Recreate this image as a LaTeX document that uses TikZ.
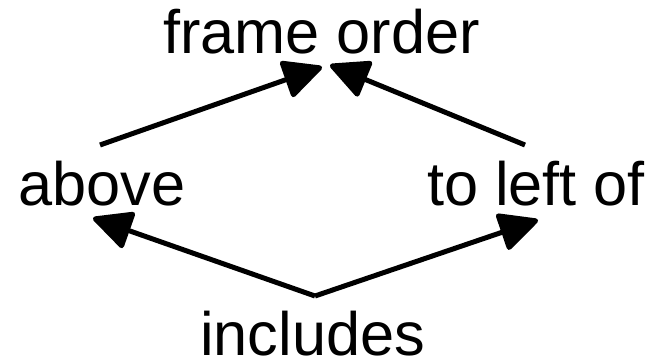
\documentclass[tikz,border=0pt]{standalone}
\usepackage{fontspec}
\setmainfont{Liberation Sans}
\usetikzlibrary{arrows.meta}
\begin{document}
\begin{tikzpicture}[x=1bp,y=1bp,
  label/.style={inner sep=0pt, anchor=base, text depth=0pt, font=\fontsize{61.5}{72}\selectfont},
  rel/.style={line width=5bp, -{Triangle[length=42bp,width=40bp,round]}}]
  \useasboundingbox (0,0) rectangle (652,361);
  % labels
  \node[label] (frame) at (321.5,308) {frame order};
  \node[label] (above) at (102,156) {above};
  \node[label] (left) at (536,156) {to left of};
  \node[label] (incl) at (312.5,6) {includes};
  % connector end points
  \coordinate (aboveTop) at (100,216);
  \coordinate (leftTop) at (525,216);
  \coordinate (frameL) at (322,294);
  \coordinate (frameR) at (330,296);
  \coordinate (inclTop) at (315,65);
  \coordinate (aboveBot) at (93,143);
  \coordinate (leftBot) at (538,141);
  % connectors
  \draw[rel] (aboveTop) -- (frameL);
  \draw[rel] (leftTop) -- (frameR);
  \draw[rel] (inclTop) -- (aboveBot);
  \draw[rel] (inclTop) -- (leftBot);
\end{tikzpicture}
\end{document}
